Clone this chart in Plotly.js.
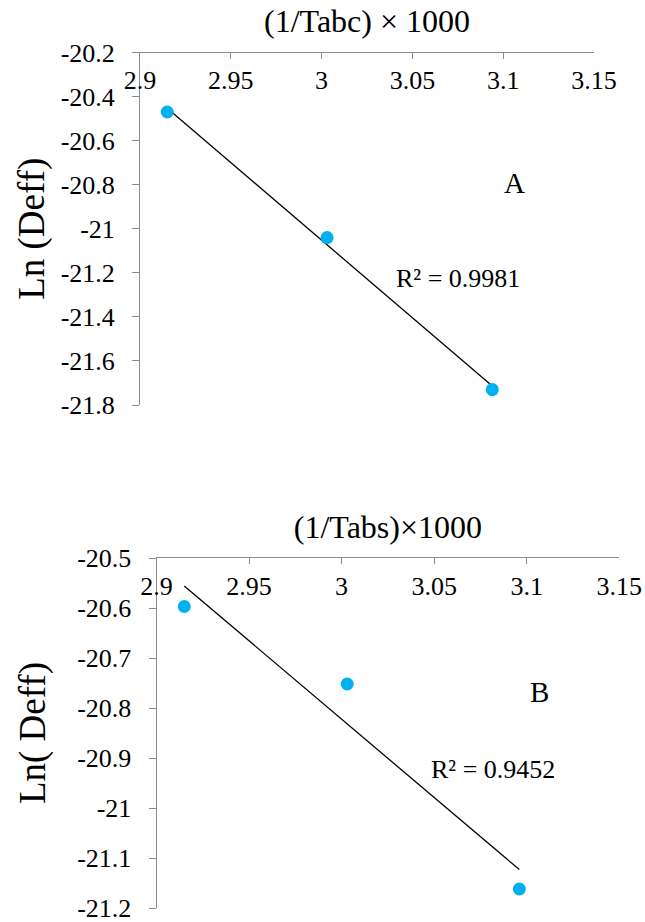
<!DOCTYPE html>
<html>
<head>
<meta charset="utf-8">
<script src="https://cdn.plot.ly/plotly-3.0.1.min.js"></script>
<style>html,body{margin:0;padding:0;background:#fff;}#chart{width:645px;height:922px;}</style>
</head>
<body>
<div id="chart"></div>
<script>
// ---- Data ----
const xA = [2.915, 3.003, 3.094];          // (1/Tabc) x 1000
const lnDeffA = [-20.47, -21.04, -21.73];
const xB = [2.915, 3.003, 3.096];          // (1/Tabs) x 1000
const lnDeffB = [-20.597, -20.752, -21.162];

const xTickVals = [2.9, 2.95, 3, 3.05, 3.1, 3.15];
const xTickText = ["2.9", "2.95", "3", "3.05", "3.1", "3.15"];
const yTickValsA = [-20.2, -20.4, -20.6, -20.8, -21, -21.2, -21.4, -21.6, -21.8];
const yTickTextA = ["-20.2", "-20.4", "-20.6", "-20.8", "-21", "-21.2", "-21.4", "-21.6", "-21.8"];
const yTickValsB = [-20.5, -20.6, -20.7, -20.8, -20.9, -21, -21.1, -21.2];
const yTickTextB = ["-20.5", "-20.6", "-20.7", "-20.8", "-20.9", "-21", "-21.1", "-21.2"];

const labelA = "A", r2A = "R² = 0.9981";
const labelB = "B", r2B = "R² = 0.9452";

// Linear least-squares trendline across the data's x span (as Excel draws it)
function trend(x, y) {
  const n = x.length;
  const mx = x.reduce((a, b) => a + b, 0) / n;
  const my = y.reduce((a, b) => a + b, 0) / n;
  let sxy = 0, sxx = 0;
  for (let i = 0; i < n; i++) { sxy += (x[i] - mx) * (y[i] - my); sxx += (x[i] - mx) ** 2; }
  const m = sxy / sxx, c = my - m * mx;
  const xs = [Math.min(...x), Math.max(...x)];
  return { x: xs, y: xs.map(v => m * v + c) };
}
const tA = trend(xA, lnDeffA), tB = trend(xB, lnDeffB);

const FONT = "Liberation Serif, Times New Roman, serif";
const AXC = "#8c8c8c";
const W = 645, H = 922;
const px = v => v / W, py = v => 1 - v / H;

const traces = [
  { x: tA.x, y: tA.y, xaxis: "x", yaxis: "y", mode: "lines", line: { color: "#000", width: 1.3 }, hoverinfo: "skip" },
  { x: xA, y: lnDeffA, xaxis: "x", yaxis: "y", mode: "markers", marker: { color: "#00B0F0", size: 13 } },
  { x: tB.x, y: tB.y, xaxis: "x2", yaxis: "y2", mode: "lines", line: { color: "#000", width: 1.3 }, hoverinfo: "skip" },
  { x: xB, y: lnDeffB, xaxis: "x2", yaxis: "y2", mode: "markers", marker: { color: "#00B0F0", size: 13 } }
];

function xax(domain, anchor, title) {
  return {
    domain: domain, anchor: anchor, side: "top", range: [2.9, 3.15],
    tickmode: "array", tickvals: xTickVals, ticktext: xTickText,
    showgrid: false, zeroline: false, showline: true, linecolor: AXC, linewidth: 1,
    ticks: "inside", ticklen: 6, tickcolor: AXC,
    ticklabelposition: "outside", ticklabelstandoff: -48, ticklabeloverflow: "allow",
    tickfont: { family: FONT, size: 26, color: "#000" },
    title: { text: title, font: { family: FONT, size: 32, color: "#000" }, standoff: 23 }
  };
}
function yax(domain, anchor, range, tv, tt, title, standoff) {
  return {
    domain: domain, anchor: anchor, range: range,
    tickmode: "array", tickvals: tv, ticktext: tt,
    showgrid: false, zeroline: false, showline: true, linecolor: AXC, linewidth: 1,
    ticks: "outside", ticklen: 7, tickcolor: AXC,
    ticklabelstandoff: 12, ticklabeloverflow: "allow",
    tickfont: { family: FONT, size: 26, color: "#000" },
    title: { text: title, font: { family: FONT, size: 37, color: "#000" }, standoff: standoff }
  };
}

const layout = {
  width: W, height: H, margin: { l: 0, r: 0, t: 0, b: 0 },
  paper_bgcolor: "#fff", plot_bgcolor: "#fff", showlegend: false,
  font: { family: FONT, color: "#000" },
  xaxis: xax([px(140), px(594)], "y", "(1/Tabc) × 1000"),
  yaxis: yax([py(405), py(52.5)], "x", [-21.8, -20.2], yTickValsA, yTickTextA, "Ln (Deff)", 4),
  xaxis2: xax([px(156.5), px(619.3)], "y2", "(1/Tabs)×1000"),
  yaxis2: yax([py(908), py(558)], "x2", [-21.2, -20.5], yTickValsB, yTickTextB, "Ln( Deff)", 20),
  annotations: [
    { xref: "x", yref: "y", x: 3.106, y: -20.792, text: labelA, showarrow: false, font: { family: FONT, size: 29 } },
    { xref: "x", yref: "y", x: 3.075, y: -21.224, text: r2A, showarrow: false, font: { family: FONT, size: 26 } },
    { xref: "x2", yref: "y2", x: 3.107, y: -20.768, text: labelB, showarrow: false, font: { family: FONT, size: 29 } },
    { xref: "x2", yref: "y2", x: 3.082, y: -20.922, text: r2B, showarrow: false, font: { family: FONT, size: 26 } }
  ]
};

Plotly.newPlot("chart", traces, layout, { displayModeBar: false, staticPlot: true });
</script>
</body>
</html>
